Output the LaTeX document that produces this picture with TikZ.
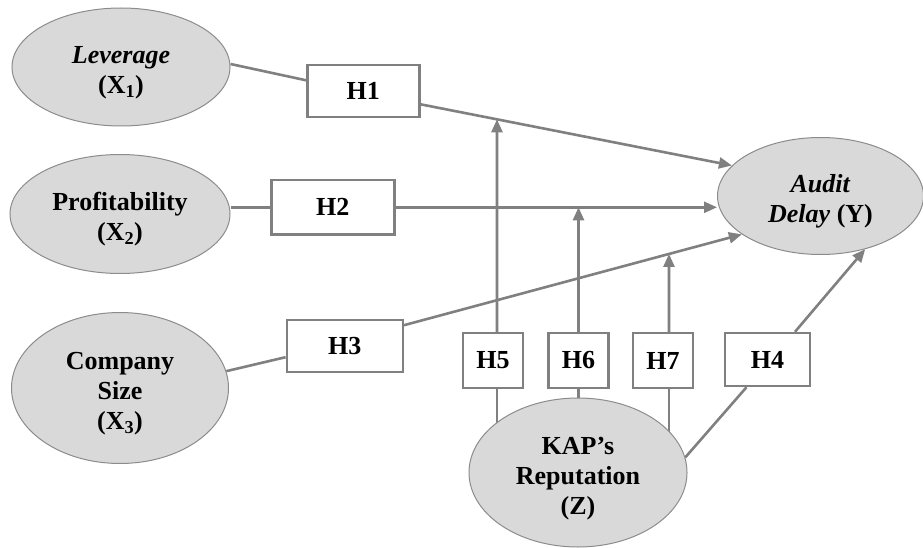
\documentclass[tikz,border=0pt]{standalone}
\usepackage{fontspec}
\setmainfont{Liberation Serif}
\usetikzlibrary{shapes.geometric,arrows.meta,backgrounds}
\definecolor{linegray}{RGB}{128,128,128}
\definecolor{ellgray}{RGB}{140,140,140}
\definecolor{fillgray}{RGB}{217,217,217}
\newcommand{\tgap}{\rule{0pt}{29pt}}
\tikzset{
  txt/.style={font=\fontsize{26}{30}\selectfont\bfseries, align=center, text=black},
  ell/.style={txt, ellipse, draw=ellgray, line width=1pt, fill=fillgray, inner sep=0pt},
  hbox/.style={txt, rectangle, draw=linegray, line width=2.4pt, fill=white, inner sep=0pt},
  conn/.style={draw=linegray, line width=2.6pt},
  arr/.style={conn, -{Triangle[length=13pt,width=11pt]}},
}
\begin{document}
\begin{tikzpicture}[x=1pt,y=-1pt]
\useasboundingbox (0,0) rectangle (923,548);
% latent variables
\node[ell, minimum width=218pt, minimum height=118pt] (lev) at (121,67) {\tgap\textit{Leverage}\\(X\textsubscript{1})};
\node[ell, minimum width=220pt, minimum height=119pt] (prof) at (120,214) {\tgap Profitability\\(X\textsubscript{2})};
\node[ell, minimum width=217pt, minimum height=151pt] (comp) at (120,388) {\tgap Company\\Size\\(X\textsubscript{3})};
\node[ell, minimum width=206pt, minimum height=117pt] (audit) at (820.5,196) {\tgap\textit{Audit}\\\textit{Delay} (Y)};
\node[ell, minimum width=218pt, minimum height=149pt] (kap) at (578,472.5) {\tgap KAP’s\\Reputation\\(Z)};
% hypothesis boxes
\node[hbox, minimum width=112pt, minimum height=52pt] (h1) at (363.3,91.3) {H1};
\node[hbox, minimum width=123pt, minimum height=54pt] (h2) at (332.8,207.3) {H2};
\node[hbox, minimum width=116pt, minimum height=52pt] (h3) at (344.8,346.2) {H3};
\node[hbox, minimum width=60pt, minimum height=55pt] (h5) at (493,360.5) {H5};
\node[hbox, minimum width=60pt, minimum height=55pt] (h6) at (578.5,360.5) {H6};
\node[hbox, minimum width=60pt, minimum height=55pt] (h7) at (663,360.5) {H7};
\node[hbox, minimum width=85pt, minimum height=53pt] (h4) at (767.5,359.5) {H4};
% connectors
\begin{scope}[on background layer]
\draw[conn] ([yshift=3pt]lev.east) -- ([yshift=11pt]h1.west);
\coordinate (h1o) at ([yshift=-13pt]h1.east);
\coordinate (a1) at (audit.161);
\draw[arr] (h1o) -- (a1);
\draw[conn] (prof.east |- h2.west) -- (h2.west);
\draw[arr] (h2.east) -- (h2.east -| audit.west);
\draw[conn] (comp.9) -- ([yshift=-11pt]h3.west);
\coordinate (h3o) at ([yshift=21pt]h3.east);
\coordinate (a3) at (audit.206);
\draw[arr] (h3o) -- (a3);
\coordinate (v5t) at ([xshift=4pt]h5.north);
\coordinate (v5b) at ([xshift=4pt]h5.south);
\draw[arr] (v5t) -- (intersection of v5t--v5b and h1o--a1);
\draw[conn] (v5b) -- (v5b |- kap.center);
\draw[arr] (h6.north) -- (h6.north |- h2.east);
\draw[conn] (h6.south) -- (kap.center);
\coordinate (v7t) at ([xshift=6pt]h7.north);
\coordinate (v7b) at ([xshift=6pt]h7.south);
\draw[arr] (v7t) -- (intersection of v7t--v7b and h3o--a3);
\draw[conn] (v7b) -- (v7b |- kap.center);
\draw[conn] (kap.8) -- ([xshift=-21pt]h4.south);
\draw[arr] ([xshift=27.5pt]h4.north) -- (audit.310);
\end{scope}
\end{tikzpicture}
\end{document}
